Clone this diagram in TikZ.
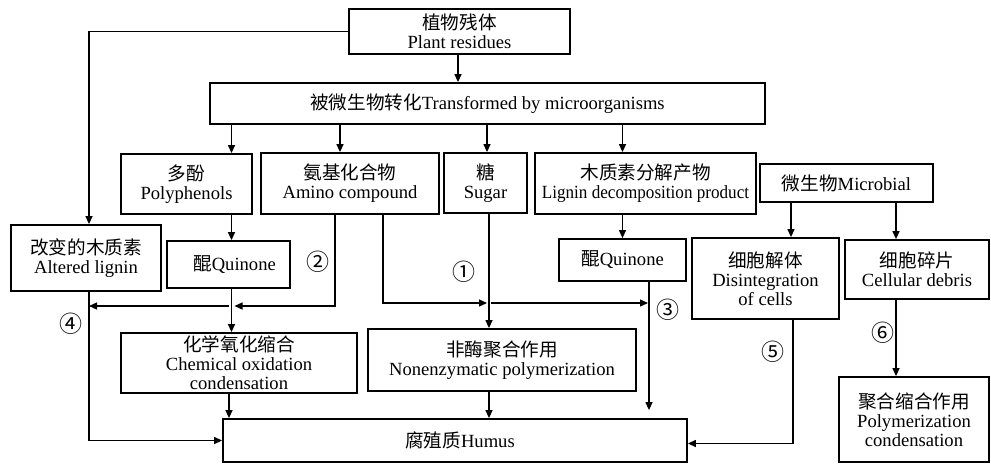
\documentclass[tikz,border=0pt]{standalone}
\usepackage{fontspec}
\usepackage{graphicx}
\setmainfont{Liberation Serif}
\newfontfamily\cjk{Noto Sans CJK SC}
\newcommand\zhs[1]{{\cjk #1}}
\usetikzlibrary{arrows.meta}
\begin{document}
\begin{tikzpicture}[x=1pt,y=-1pt,
  font=\fontsize{18.6}{19}\selectfont,
  box/.style={draw,line width=1.8pt,inner sep=0pt,align=center},
  arr/.style={line width=1.3pt,-{Triangle[length=8pt,width=7pt]}},
  lbl/.style={font=\cjk\fontsize{23}{23}\selectfont,inner sep=0pt}]
\useasboundingbox (0,0) rectangle (991,464);
% boxes
\node[box,minimum width=221pt,minimum height=45pt] (plant) at (459.5,31.5) {\zhs{植物残体}\\Plant residues};
\node[box,minimum width=555pt,minimum height=41pt] (trans) at (487.5,103.5) {\zhs{被微生物转化}Transformed by microorganisms};
\node[box,minimum width=131pt,minimum height=60pt] (poly) at (186.5,184) {\zhs{多酚}\\Polyphenols};
\node[box,minimum width=178pt,minimum height=61pt] (amino) at (350,183.5) {\zhs{氨基化合物}\\Amino compound};
\node[box,minimum width=83pt,minimum height=60pt] (sugar) at (485.5,183) {\zhs{糖}\\Sugar};
\node[box,minimum width=221pt,minimum height=61pt] (lignin) at (645.5,183.5) {\zhs{木质素分解产物}\\\scalebox{0.92}[1]{Lignin decomposition product}};
\node[box,minimum width=173pt,minimum height=38pt] (micro) at (846.5,183) {\zhs{微生物}Microbial};
\node[box,minimum width=150pt,minimum height=66pt] (altered) at (86,258) {\zhs{改变的木质素}\\Altered lignin};
\node[box,minimum width=123pt,minimum height=47pt] (quin1) at (228.5,264.5) {\hspace*{12pt}\zhs{醌}Quinone};
\node[box,minimum width=127pt,minimum height=42pt] (quin2) at (622.5,260) {\zhs{醌}Quinone};
\node[box,minimum width=147pt,minimum height=81pt] (disint) at (765.5,278.5) {\zhs{细胞解体}\\Disintegration\\of cells};
\node[box,minimum width=144pt,minimum height=59pt] (debris) at (917,269.5) {\zhs{细胞碎片}\\Cellular debris};
\node[box,minimum width=236pt,minimum height=60pt] (chem) at (239,363) {\zhs{化学氧化缩合}\\Chemical oxidation\\condensation};
\node[box,minimum width=268pt,minimum height=62pt] (nonenz) at (502,360) {\zhs{非酶聚合作用}\\Nonenzymatic polymerization};
\node[box,minimum width=464pt,minimum height=43pt] (humus) at (455,440.5) {\hspace*{10pt}\zhs{腐殖质}Humus};
\node[box,minimum width=150pt,minimum height=85pt] (polycond) at (914,419.5) {\zhs{聚合缩合作用}\\Polymerization\\condensation};
% junction coordinates
\coordinate (ja) at (231.5,306);
\coordinate (jl) at (89,306);
\coordinate (js) at (489,303);
\coordinate (q3) at ([xshift=26.5pt]quin2.south);
% connectors
\draw[arr] ([xshift=-1.5pt]plant.south) -- ([xshift=-1.5pt]plant.south |- trans.north);
\draw[arr] (plant.west) -| ([xshift=3pt]altered.north);
\draw[arr] ([xshift=3pt]quin1.north |- trans.south) -- ([xshift=3pt]quin1.north |- poly.north);
\draw[arr] ([xshift=-10pt]amino.north |- trans.south) -- ([xshift=-10pt]amino.north);
\draw[arr] ([xshift=1.5pt]sugar.north |- trans.south) -- ([xshift=1.5pt]sugar.north);
\draw[arr] (quin2.north |- trans.south) -- (quin2.north |- lignin.north);
\draw[arr] ([xshift=25.5pt]disint.north |- micro.south) -- ([xshift=25.5pt]disint.north);
\draw[arr] ([xshift=-21pt]debris.north |- micro.south) -- ([xshift=-21pt]debris.north);
\draw[arr] ([xshift=3pt]quin1.north |- poly.south) -- ([xshift=3pt]quin1.north);
\draw[arr] (quin2.north |- lignin.south) -- (quin2.north);
\draw[arr] ([xshift=3pt]quin1.south) -- ([xshift=3pt]quin1.south |- chem.north);
\draw[arr] ([xshift=-15pt]amino.south) |- ([xshift=3pt]ja);
\draw[arr] ([xshift=-3pt]ja) -- (jl);
\draw[arr] ([xshift=3pt]altered.south) |- (humus.west);
\draw[arr] ([xshift=33pt]amino.south) |- ([xshift=-2pt]js);
\draw[arr] ([xshift=2pt]js) -- ([xshift=-1pt]js -| q3);
\draw[arr] ([xshift=3.5pt]sugar.south) -- ([xshift=3.5pt]sugar.south |- nonenz.north);
\draw[arr,shorten >=8pt] (q3) -- (q3 |- humus.north);
\draw[arr] ([xshift=-10pt]chem.south) -- ([xshift=-10pt]chem.south |- humus.north);
\draw[arr] ([xshift=-13pt]nonenz.south) -- ([xshift=-13pt]nonenz.south |- humus.north);
\draw[arr] ([xshift=27.5pt]disint.south) |- ([yshift=-3pt]humus.east);
\draw[arr] ([xshift=-21pt]debris.south) -- ([xshift=-21pt]debris.south |- polycond.north);
% labels
\node[lbl] (l2) at (318,262) {②};
\node[lbl] (l1) at (464,272) {①};
\node[lbl] (l3) at (668,310) {③};
\node[lbl] (l4) at (71,324) {④};
\node[lbl] (l5) at (773,352) {⑤};
\node[lbl] (l6) at (883,333) {⑥};
\end{tikzpicture}
\end{document}
